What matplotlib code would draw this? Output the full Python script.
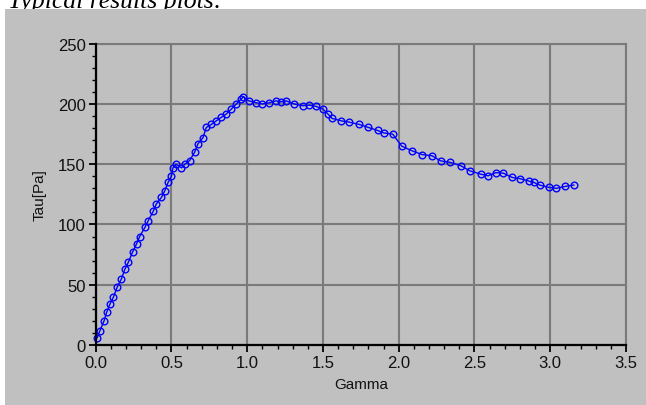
import matplotlib
matplotlib.use("Agg")
import matplotlib.pyplot as plt
from matplotlib.patches import Rectangle
from matplotlib.ticker import MultipleLocator

gamma = [0.01, 0.028, 0.055, 0.072, 0.094, 0.116, 0.142, 0.17, 0.193, 0.215,
         0.243, 0.27, 0.29, 0.325, 0.346, 0.38, 0.40, 0.434, 0.456, 0.478,
         0.50, 0.51, 0.53, 0.566, 0.588, 0.62, 0.653, 0.675, 0.708, 0.73,
         0.763, 0.796, 0.83, 0.86, 0.895, 0.928, 0.96, 0.975, 1.01, 1.06,
         1.10, 1.147, 1.19, 1.22, 1.256, 1.31, 1.366, 1.41, 1.454, 1.50,
         1.53, 1.56, 1.62, 1.67, 1.74, 1.80, 1.86, 1.90, 1.96, 2.02,
         2.09, 2.155, 2.22, 2.276, 2.34, 2.41, 2.47, 2.54, 2.59, 2.64,
         2.69, 2.75, 2.80, 2.86, 2.89, 2.93, 2.99, 3.04, 3.10, 3.155]
tau = [6, 12, 20, 27, 34, 39.5, 48, 55, 63, 68.6,
       77, 84, 90, 97.6, 103, 111, 117, 122.5, 128, 135,
       140, 147, 150, 147, 150, 153, 160, 167, 172, 180.5,
       183, 186, 189, 191.5, 195.7, 200, 204, 206, 202.6, 201,
       200, 201, 202.6, 201.8, 202.6, 200, 198.5, 199, 198, 195.7,
       192, 188, 186, 185, 183, 180.5, 178, 176, 175, 165,
       161, 158, 157, 152.8, 151.5, 148.7, 144.5, 141.8, 140.4, 143,
       142.6, 139, 138, 136, 135, 132.7, 130.8, 130, 131.6, 132.7]

x_ticks = [0.0, 0.5, 1.0, 1.5, 2.0, 2.5, 3.0, 3.5]
x_tick_labels = ["0.0", "0.5", "1.0", "1.5", "2.0", "2.5", "3.0", "3.5"]
y_ticks = [0, 50, 100, 150, 200, 250]
y_tick_labels = ["0", "50", "100", "150", "200", "250"]

W, H = 646, 406
fig = plt.figure(figsize=(W / 100, H / 100), dpi=100)
fig.patch.set_facecolor("white")

# title (partially hidden by the grey panel, as in the reference)
fig.text(8 / W, 1 - 8 / H, "Typical results plots:", family="Liberation Serif",
         style="italic", fontsize=18.5, color="black", ha="left", va="baseline", zorder=0)
panel = Rectangle((5 / W, 0), 1 - 5 / W, 1 - 10 / H, transform=fig.transFigure,
                  facecolor="#c0c0c0", edgecolor="none", zorder=0.5)
fig.patches.append(panel)

bg = "#c0c0c0"
ax = fig.add_axes([95.7 / W, 1 - 346 / H, (626 - 95.7) / W, (346 - 44.7) / H], zorder=1)
ax.set_facecolor(bg)

ax.plot(gamma, tau, color="#0000ff", lw=1.0, marker="o", markersize=4.8,
        markerfacecolor="none", markeredgecolor="#0000ff", markeredgewidth=1.0,
        zorder=3, clip_on=False)

ax.set_xlim(0, 3.5)
ax.set_ylim(0, 250)
ax.set_xticks(x_ticks)
ax.set_xticklabels(x_tick_labels)
ax.set_yticks(y_ticks)
ax.set_yticklabels(y_tick_labels)
ax.xaxis.set_minor_locator(MultipleLocator(0.1))
ax.yaxis.set_minor_locator(MultipleLocator(10))

ax.grid(True, which="major", color="#7a7a7a", lw=1.5)
ax.set_axisbelow(True)

for s in ["top", "right"]:
    ax.spines[s].set_color("#7a7a7a")
    ax.spines[s].set_linewidth(1.5)
for s in ["left", "bottom"]:
    ax.spines[s].set_color("black")
    ax.spines[s].set_linewidth(1.6)
    ax.spines[s].set_zorder(4)

ax.tick_params(which="major", direction="out", length=5, width=1.3, color="black",
               labelsize=12, labelcolor="#111111", pad=2)
ax.tick_params(which="minor", direction="out", length=3, width=1.0, color="black")
for lab in ax.get_xticklabels() + ax.get_yticklabels():
    lab.set_family("Liberation Sans")

ax.set_xlabel("Gamma", family="Liberation Sans", fontsize=11, color="#111111", labelpad=5)
ax.set_ylabel("Tau[Pa]", family="Liberation Sans", fontsize=11, color="#111111", labelpad=8)

fig.savefig("out.png", dpi=100, facecolor=fig.get_facecolor())
